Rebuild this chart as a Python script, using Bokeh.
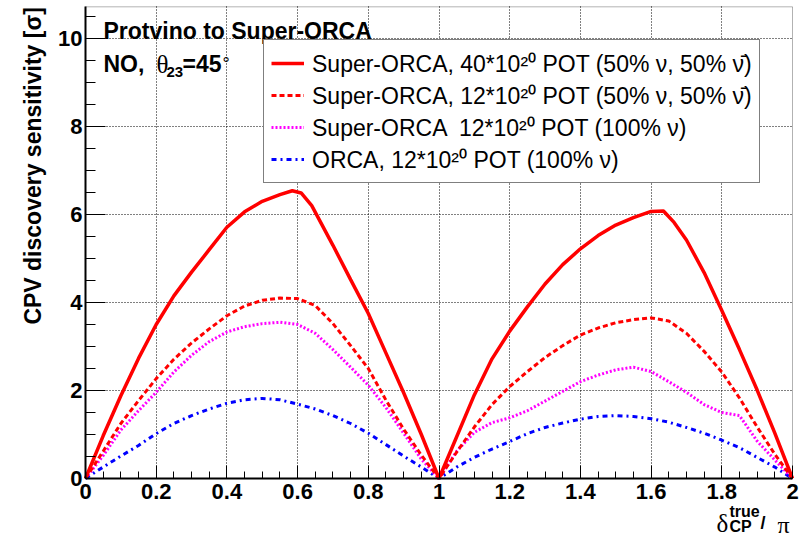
from math import pi
from bokeh.plotting import figure
from bokeh.models import (FixedTicker, Legend, LegendItem, Label, LinearAxis, Grid,
                          BoxAnnotation, Range1d)
from bokeh.embed import file_html
from bokeh.resources import INLINE

# ---------------- data ----------------
delta = [0, 0.05, 0.1, 0.15, 0.2, 0.25, 0.3, 0.35, 0.4, 0.45, 0.5, 0.55, 0.6, 0.65,
         0.7, 0.75, 0.8, 0.85, 0.9, 0.95, 1.0, 1.05, 1.1, 1.15, 1.2, 1.25, 1.3, 1.35,
         1.4, 1.45, 1.5, 1.55, 1.6, 1.65, 1.7, 1.75, 1.8, 1.85, 1.9, 1.95, 2.0]

delta_so40 = [0, 0.05, 0.1, 0.15, 0.2, 0.25, 0.3, 0.35, 0.4, 0.45, 0.5, 0.55, 0.585, 0.61,
              0.64, 0.7, 0.75, 0.8, 0.85, 0.9, 0.95, 1.0, 1.05, 1.1, 1.15, 1.2, 1.25, 1.3,
              1.35, 1.4, 1.45, 1.5, 1.55, 1.6, 1.635, 1.665, 1.7, 1.75, 1.8, 1.85, 1.9,
              1.95, 2.0]
sens_so40 = [0, 0.97, 1.88, 2.73, 3.5, 4.15, 4.69, 5.2, 5.71, 6.06, 6.3, 6.45, 6.54, 6.49,
             6.2, 5.3, 4.52, 3.75, 2.85, 1.95, 1.0, 0, 0.95, 1.9, 2.72, 3.35, 3.9, 4.42,
             4.86, 5.22, 5.52, 5.76, 5.93, 6.07, 6.08, 5.82, 5.42, 4.68, 3.82, 2.93, 2.01,
             1.03, 0]

sens_so12 = [0, 0.62, 1.25, 1.77, 2.27, 2.71, 3.08, 3.4, 3.7, 3.92, 4.05, 4.1, 4.09, 3.93,
             3.52, 3.02, 2.5, 1.78, 1.12, 0.53, 0, 0.6, 1.17, 1.68, 2.09, 2.43, 2.75, 3.02,
             3.26, 3.42, 3.54, 3.61, 3.65, 3.58, 3.3, 2.89, 2.42, 1.83, 1.17, 0.55, 0]

sens_so12_nu = [0, 0.52, 1.1, 1.54, 1.96, 2.42, 2.8, 3.11, 3.33, 3.45, 3.52, 3.55, 3.5, 3.3,
                2.93, 2.53, 2.12, 1.61, 1.03, 0.44, 0, 0.62, 1.05, 1.27, 1.38, 1.54, 1.76,
                1.98, 2.2, 2.35, 2.47, 2.53, 2.43, 2.2, 1.96, 1.68, 1.5, 1.43, 0.85, 0.42, 0]

sens_orca12 = [0, 0.26, 0.51, 0.75, 1.02, 1.25, 1.43, 1.58, 1.71, 1.79, 1.82, 1.79, 1.69,
               1.58, 1.43, 1.25, 1.03, 0.77, 0.51, 0.26, 0, 0.26, 0.48, 0.67, 0.84, 1.02,
               1.16, 1.26, 1.35, 1.41, 1.43, 1.41, 1.36, 1.28, 1.16, 1.03, 0.87, 0.7, 0.48,
               0.26, 0]

series_labels = [
    "Super-ORCA, 40*10\u00b2\u2070 POT (50% \u03bd, 50% \u03bd\u0304)",
    "Super-ORCA, 12*10\u00b2\u2070 POT (50% \u03bd, 50% \u03bd\u0304)",
    "Super-ORCA  12*10\u00b2\u2070 POT (100% \u03bd)",
    "ORCA, 12*10\u00b2\u2070 POT (100% \u03bd)",
]

x_ticks = [0, 0.2, 0.4, 0.6, 0.8, 1, 1.2, 1.4, 1.6, 1.8, 2]
x_tick_labels = ["0", "0.2", "0.4", "0.6", "0.8", "1", "1.2", "1.4", "1.6", "1.8", "2"]
x_minor = [0.05, 0.1, 0.15, 0.25, 0.3, 0.35, 0.45, 0.5, 0.55, 0.65, 0.7, 0.75, 0.85, 0.9,
           0.95, 1.05, 1.1, 1.15, 1.25, 1.3, 1.35, 1.45, 1.5, 1.55, 1.65, 1.7, 1.75, 1.85,
           1.9, 1.95]
y_ticks = [0, 2, 4, 6, 8, 10]
y_tick_labels = ["0", "2", "4", "6", "8", "10"]
y_minor = [0.5, 1, 1.5, 2.5, 3, 3.5, 4.5, 5, 5.5, 6.5, 7, 7.5, 8.5, 9, 9.5, 10.5]
x_max = 2
y_max = 10.72

# ---------------- geometry (pixels of the canvas) ----------------
W, H = 799, 536
X0PX, XSCALE = 85, 353.5      # pixel of delta=0, pixels per unit
Y0PX, YSCALE = 478, 44.0      # pixel of sensitivity=0, pixels per unit


def X(px):
    return (px - X0PX) / XSCALE


def Y(py):
    return (Y0PX - py) / YSCALE


FONT = "Liberation Sans"
SERIF = "Liberation Serif"

p = figure(width=W, height=H, x_range=Range1d(X(0), X(W)), y_range=Range1d(Y(H), Y(0)),
           x_axis_type=None, y_axis_type=None,
           output_backend="svg", toolbar_location=None,
           min_border_left=0, min_border_right=0, min_border_top=0, min_border_bottom=0)
p.background_fill_color = "white"
p.border_fill_color = "white"
p.outline_line_color = None

# grid (dotted, at major ticks, inside the frame only)
xgrid = Grid(dimension=0, ticker=FixedTicker(ticks=x_ticks[1:-1]), cross_bounds=(0, y_max),
             grid_line_color="black", grid_line_dash="1 2", grid_line_width=1)
ygrid = Grid(dimension=1, ticker=FixedTicker(ticks=y_ticks[1:]), cross_bounds=(0, x_max),
             grid_line_color="black", grid_line_dash="1 2", grid_line_width=1)
p.add_layout(xgrid)
p.add_layout(ygrid)

# ---------------- curves ----------------
r_orca = p.line(delta, sens_orca12, line_color="#0000ff", line_width=3, line_dash="5 4 2 4")
r_nu = p.line(delta, sens_so12_nu, line_color="#ff00ff", line_width=3, line_dash="2 2")
r_12 = p.line(delta, sens_so12, line_color="#ff0000", line_width=3, line_dash="5 3")
r_40 = p.line(delta_so40, sens_so40, line_color="#ff0000", line_width=3.5)

# frame box
p.add_layout(BoxAnnotation(left=0, right=x_max, bottom=0, top=y_max, fill_color=None,
                           line_color="black", line_width=1))

# axes drawn on the frame edges
xaxis = LinearAxis(fixed_location=0, bounds=(0, x_max),
                   ticker=FixedTicker(ticks=x_ticks, minor_ticks=x_minor),
                   major_label_overrides=dict(zip(x_ticks, x_tick_labels)))
yaxis = LinearAxis(fixed_location=0, bounds=(0, y_max),
                   ticker=FixedTicker(ticks=y_ticks, minor_ticks=y_minor),
                   major_label_overrides=dict(zip(y_ticks, y_tick_labels)))
for ax in (xaxis, yaxis):
    ax.axis_line_color = "black"
    ax.axis_line_width = 2
    ax.major_tick_line_color = "black"
    ax.minor_tick_line_color = "black"
    ax.major_tick_line_width = 1
    ax.minor_tick_line_width = 1
    ax.major_tick_out = 0
    ax.minor_tick_out = 0
    ax.major_label_text_font = FONT
    ax.major_label_text_font_style = "bold"
    ax.major_label_text_font_size = "22px"
    ax.major_label_text_color = "black"
xaxis.major_tick_in = 13
xaxis.minor_tick_in = 7
xaxis.major_label_standoff = 5
yaxis.major_tick_in = 20
yaxis.minor_tick_in = 10
yaxis.major_label_standoff = 3
p.add_layout(xaxis, "below")
p.add_layout(yaxis, "left")

# ---------------- legend ----------------
legend = Legend(items=[
    LegendItem(label=series_labels[0], renderers=[r_40]),
    LegendItem(label=series_labels[1], renderers=[r_12]),
    LegendItem(label=series_labels[2], renderers=[r_nu]),
    LegendItem(label=series_labels[3], renderers=[r_orca]),
], location=(263, H - 183))
legend.label_text_font = FONT
legend.label_text_font_size = "23px"
legend.label_text_color = "black"
legend.glyph_width = 33
legend.glyph_height = 26
legend.label_height = 26
legend.label_standoff = 8
legend.spacing = 0
legend.padding = 7
legend.margin = 0
legend.border_line_color = "black"
legend.border_line_width = 1
legend.background_fill_color = "white"
legend.background_fill_alpha = 1
p.add_layout(legend)


# ---------------- texts ----------------
def lab(px, py, text, size, style="bold", font=FONT, **kw):
    p.add_layout(Label(x=X(px), y=Y(py), text=text, text_font=font, text_font_size=size,
                       text_font_style=style, text_color="black",
                       text_baseline="alphabetic", **kw))


lab(103, 30.7, "Protvino to Super-ORCA", "23px")
lab(103, 63.3, "NO,", "23px")
lab(156, 63.5, "\u03b8", "25px", style="normal", font=SERIF)
lab(166, 71.5, "23", "15px")
lab(182, 63.3, "=45", "23px")
lab(222, 63.3, "\u00b0", "18px", style="normal")

# y axis title (reads upwards, ends near the top)
lab(32.5, 6.7, "CPV discovery sensitivity [\u03c3]", "23px", angle=pi / 2,
    text_align="right")

# x axis title
lab(716, 523, "\u03b4", "25px", style="normal", font=SERIF)
lab(729, 511, "true", "16px")
lab(729, 526, "CP", "16px")
lab(760, 522, "/", "18px")
lab(777, 524, "\u03c0", "24px", style="normal", font=SERIF)

open("out.html", "w").write(file_html(p, INLINE))
